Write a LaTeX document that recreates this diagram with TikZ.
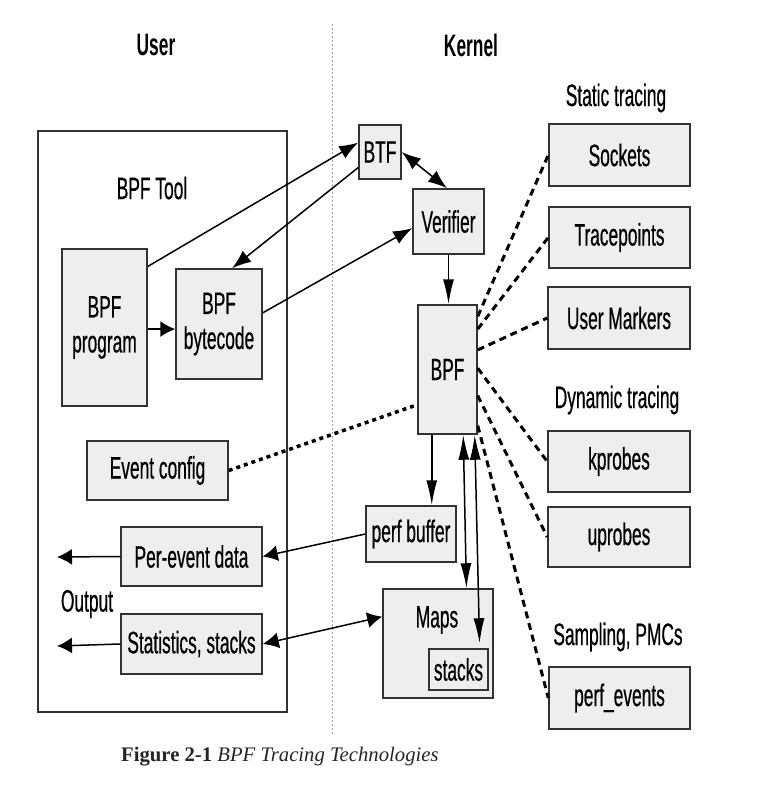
\documentclass[tikz,border=0pt]{standalone}
\usepackage{fontspec}
\setmainfont{Liberation Sans}[FakeStretch=0.56, FakeBold=0.5, BoldFeatures={FakeBold=0}]
\newfontfamily\capfont{Liberation Serif}
\usetikzlibrary{arrows.meta,calc}
\definecolor{boxfill}{HTML}{EEEEEE}
\definecolor{boxline}{HTML}{333333}
\tikzset{
  box/.style={draw=boxline, fill=boxfill, line width=1.5pt, inner sep=0pt, align=center,
    font=\fontsize{31}{35}\selectfont, text=black},
  lbl/.style={inner sep=0pt, font=\fontsize{31}{35}\selectfont, text=black},
  hlbl/.style={inner sep=0pt, font=\fontsize{31}{35}\selectfont\bfseries, text=black},
  conn/.style={line width=1.5pt, draw=black},
  harr/.style={conn, -{Latex[length=15pt,width=16pt]}},
  varr/.style={conn, -{Latex[length=25pt,width=11pt]}},
  varrb/.style={conn, {Latex[length=25pt,width=11pt]}-{Latex[length=25pt,width=11pt]}},
  darr/.style={conn, -{Latex[length=19pt,width=14pt]}},
  darrb/.style={conn, {Latex[length=19pt,width=14pt]}-{Latex[length=19pt,width=14pt]}},
  harrb/.style={conn, {Latex[length=16pt,width=16pt]}-{Latex[length=15pt,width=16pt]}},
  probe/.style={line width=3pt, dash pattern=on 7pt off 5pt, draw=black},
  evdot/.style={line width=3.5pt, dash pattern=on 4pt off 4pt, draw=black},
}
\begin{document}
\begin{tikzpicture}[x=1pt,y=-1pt]
\path[use as bounding box, fill=white] (0,0) rectangle (779,794);

% divider
\coordinate (divtop) at (332,24);
\coordinate (divbot) at (332,735);
\draw[gray!70, line width=0.8pt, dash pattern=on 2pt off 2pt] (divtop) -- (divbot);

% headings
\node[hlbl] (user) at (156,45) {User};
\node[hlbl] (kernel) at (471,45) {Kernel};

% user side
\node[draw=boxline, line width=1.5pt, minimum width=249pt, minimum height=581pt, inner sep=0pt] (userbox) at (162.5,421.5) {};
\node[lbl] (tool) at (152,188) {BPF Tool};
\node[box, minimum width=85pt, minimum height=157pt] (prog) at (104.5,327.5) {BPF\\program};
\node[box, minimum width=86pt, minimum height=110pt] (byte) at (219,324) {BPF\\bytecode};
\node[box, minimum width=141pt, minimum height=59pt] (event) at (157.5,470.5) {Event config};
\node[box, minimum width=141pt, minimum height=59pt] (perev) at (191.5,556.5) {Per-event data};
\node[box, minimum width=141pt, minimum height=60pt] (stats) at (191.5,644) {Statistics, stacks};
\node[lbl] (output) at (87,604) {Output};
\coordinate (outpe) at (57,557);
\coordinate (outst) at (57,646);

% kernel side
\node[box, minimum width=42pt, minimum height=54pt] (btf) at (380,152) {BTF};
\node[box, minimum width=71pt, minimum height=65pt] (ver) at (448.5,221.5) {Verifier};
\node[box, minimum width=59pt, minimum height=129pt] (bpf) at (447.5,369.5) {BPF};
\node[box, minimum width=90pt, minimum height=56pt] (pbuf) at (411,534) {perf buffer};
\node[box, minimum width=110pt, minimum height=109pt] (maps) at (438,643.5) {};
\node[lbl] (mapslbl) at (437,620) {Maps};
\node[box, minimum width=59pt, minimum height=41pt] (stacks) at (458.5,669.5) {stacks};

% right column
\node[lbl] (static) at (616,98) {Static tracing};
\node[box, minimum width=141pt, minimum height=62pt] (sock) at (619.5,155) {Sockets};
\node[box, minimum width=141pt, minimum height=61pt] (trace) at (619.5,237.5) {Tracepoints};
\node[box, minimum width=142pt, minimum height=62pt] (umark) at (619,318) {User Markers};
\node[lbl] (dynamic) at (617,400) {Dynamic tracing};
\node[box, minimum width=142pt, minimum height=61pt] (kprobes) at (619,461.5) {kprobes};
\node[box, minimum width=142pt, minimum height=60pt] (uprobes) at (619,537) {uprobes};
\node[lbl] (sampling) at (618,637) {Sampling, PMCs};
\node[box, minimum width=141pt, minimum height=62pt] (pevents) at (619.5,698) {perf\_events};

% caption
\node[anchor=west, inner sep=0pt, text=black!85, font=\capfont\fontsize{20.7}{24}\selectfont] (cap) at (121,757) {\textbf{Figure 2-1} \textit{BPF Tracing Technologies}};

% solid connectors
\draw[darr] ($(prog.north east)!0.115!(prog.south east)$) -- ($(btf.north west)!0.33!(btf.south west)$);
\draw[darr] ($(btf.north west)!0.78!(btf.south west)$) -- ($(byte.north west)!0.65!(byte.north east)$);
\draw[darr] ($(byte.north east)!0.4!(byte.south east)$) -- ($(ver.north west)!0.6!(ver.south west)$);
\draw[darrb] (btf.east) -- ($(ver.north west)!0.48!(ver.north east)$);
\draw[varr] (ver.south) -- (ver.south |- bpf.north);
\draw[harr] ($(prog.north east)!0.51!(prog.south east)$) coordinate (pe) -- (pe -| byte.west);
\draw[varr] ($(bpf.south west)!0.24!(bpf.south east)$) coordinate (bs) -- (bs |- pbuf.north);
\draw[varrb] ($(bpf.south west)!0.76!(bpf.south east)$) -- ($(maps.north west)!0.755!(maps.north east)$);
\draw[varrb, shorten >=5pt] ($(bpf.south west)!0.95!(bpf.south east)$) -- ($(stacks.north west)!0.85!(stacks.north east)$);
\draw[harr] (pbuf.west) -- (perev.east);
\draw[harrb] (stats.east) -- ($(maps.north west)!0.257!(maps.south west)$);
\draw[harr] (perev.west) -- (outpe);
\draw[harr] (stats.west) -- (outst);

% dashed probes
\draw[probe] ($(bpf.north east)!0.093!(bpf.south east)$) -- (sock.west);
\draw[probe] ($(bpf.north east)!0.19!(bpf.south east)$) -- (trace.west);
\draw[probe] ($(bpf.north east)!0.35!(bpf.south east)$) -- (umark.west);
\draw[probe] ($(bpf.north east)!0.49!(bpf.south east)$) -- (kprobes.west);
\draw[probe] ($(bpf.north east)!0.70!(bpf.south east)$) -- (uprobes.west);
\draw[probe] ($(bpf.north east)!0.93!(bpf.south east)$) -- (pevents.west);
\draw[evdot] (event.east) -- ($(bpf.north west)!0.77!(bpf.south west)$);
\end{tikzpicture}
\end{document}
